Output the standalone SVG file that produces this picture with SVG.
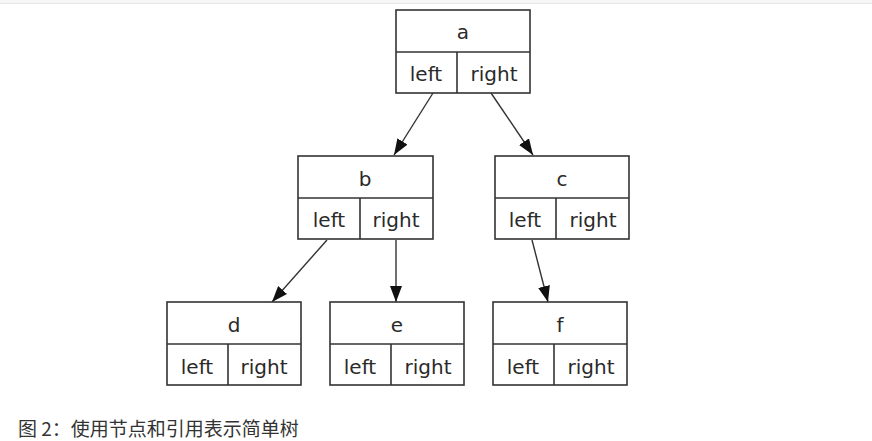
<svg xmlns="http://www.w3.org/2000/svg" width="872" height="441" viewBox="0 0 872 441">
<style>
.box{fill:#fff;stroke:#333;stroke-width:1.6}
.div{stroke:#333;stroke-width:1.6}
text{font-family:"DejaVu Sans","Noto Sans",sans-serif;font-size:20px;fill:#2a2a2a;text-anchor:middle}
.edge{stroke:#333;stroke-width:1.4;fill:none;marker-end:url(#arr)}
.cap{font-family:"Noto Sans CJK SC","Noto Sans",sans-serif;font-size:19px;text-anchor:start;fill:#333}
</style>
<defs>
<marker id="arr" markerWidth="16" markerHeight="12" refX="16" refY="6" orient="auto" markerUnits="userSpaceOnUse">
<path d="M0,0 L16,6 L0,12 Z" fill="#111"/>
</marker>
</defs>
<rect x="0" y="0" width="872" height="4" fill="#f6f6f6"/>
<line x1="0" y1="3.5" x2="872" y2="3.5" stroke="#e8e8e8" stroke-width="1"/>
<g id="connectors">
<line class="edge" x1="433" y1="93" x2="394" y2="155"/>
<line class="edge" x1="491" y1="93" x2="533" y2="155"/>
<line class="edge" x1="327" y1="240" x2="272" y2="302"/>
<line class="edge" x1="396" y1="240" x2="396" y2="302"/>
<line class="edge" x1="532" y1="240" x2="548" y2="302"/>
</g>
<g id="node-a">
<rect class="box" x="396" y="10" width="134" height="83"/>
<line class="div" x1="396" y1="52" x2="530" y2="52"/>
<line class="div" x1="457" y1="52" x2="457" y2="93"/>
<text x="463" y="39">a</text>
<text x="426" y="81">left</text>
<text x="494" y="81">right</text>
</g>
<g id="node-b">
<rect class="box" x="298" y="156" width="135" height="83"/>
<line class="div" x1="298" y1="198" x2="433" y2="198"/>
<line class="div" x1="360" y1="198" x2="360" y2="239"/>
<text x="365" y="186">b</text>
<text x="329" y="227">left</text>
<text x="396" y="227">right</text>
</g>
<g id="node-c">
<rect class="box" x="495" y="156" width="134" height="83"/>
<line class="div" x1="495" y1="198" x2="629" y2="198"/>
<line class="div" x1="556" y1="198" x2="556" y2="239"/>
<text x="562" y="186">c</text>
<text x="525" y="227">left</text>
<text x="593" y="227">right</text>
</g>
<g id="node-d">
<rect class="box" x="167" y="302" width="134" height="83"/>
<line class="div" x1="167" y1="344" x2="301" y2="344"/>
<line class="div" x1="228" y1="344" x2="228" y2="385"/>
<text x="234" y="332">d</text>
<text x="197" y="374">left</text>
<text x="264" y="374">right</text>
</g>
<g id="node-e">
<rect class="box" x="330" y="302" width="134" height="83"/>
<line class="div" x1="330" y1="344" x2="464" y2="344"/>
<line class="div" x1="391" y1="344" x2="391" y2="385"/>
<text x="397" y="332">e</text>
<text x="360" y="374">left</text>
<text x="428" y="374">right</text>
</g>
<g id="node-f">
<rect class="box" x="493" y="302" width="134" height="83"/>
<line class="div" x1="493" y1="344" x2="627" y2="344"/>
<line class="div" x1="554" y1="344" x2="554" y2="385"/>
<text x="560" y="332">f</text>
<text x="523" y="374">left</text>
<text x="591" y="374">right</text>
</g>
<text class="cap" x="18" y="436">图 2：使用节点和引用表示简单树</text>
</svg>
